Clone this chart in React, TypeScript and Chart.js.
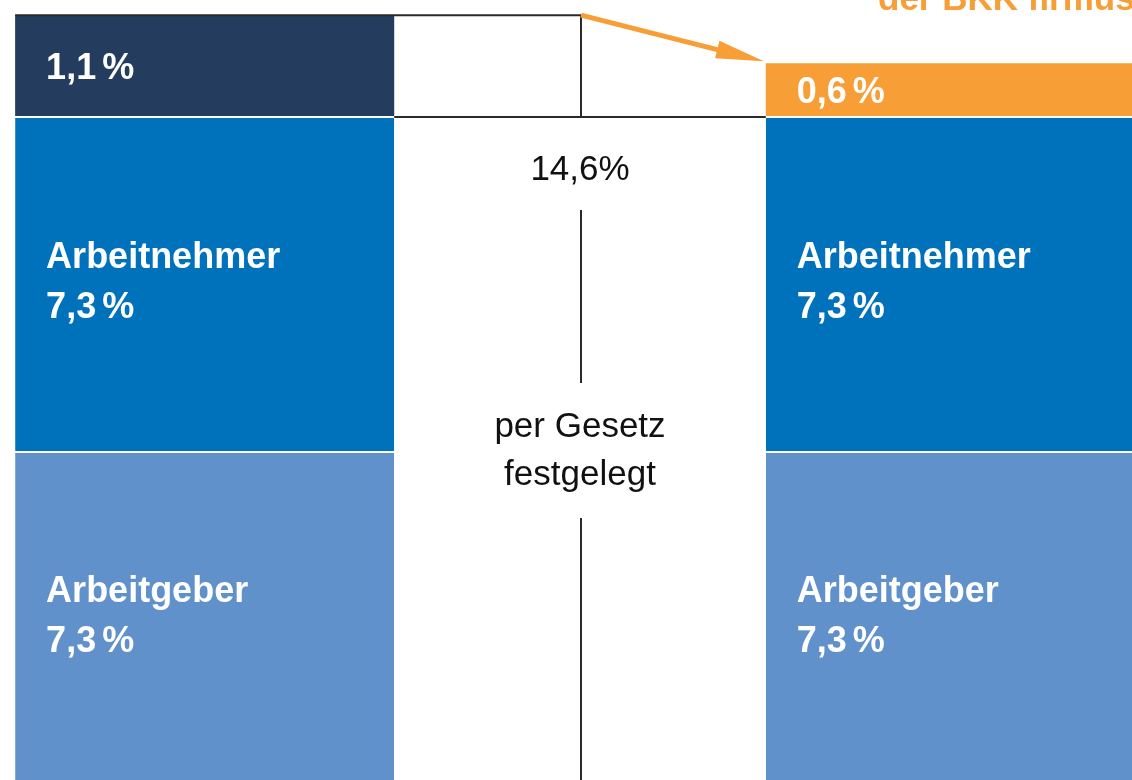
import React, { useEffect, useRef } from "react";
import { Chart, registerables } from "chart.js";

Chart.register(...registerables);

// ---- data ----
const categories = ["Allgemeiner Beitragssatz", "", "BKK firmus"];
const arbeitgeberValues = [7.3, null, 7.3];
const arbeitnehmerValues = [7.3, null, 7.3];
// drawn heights of the Zusatzbeitrag blocks (as shown in the picture)
const zusatzValues = [2.2, null, 1.15];
const zusatzLabels = ["1,1 %", "", "0,6 %"];
const arbeitnehmerLabels = ["Arbeitnehmer", "7,3 %"];
const arbeitgeberLabels = ["Arbeitgeber", "7,3 %"];
const totalLabel = "14,6%";
const noteLines = ["per Gesetz", "festgelegt"];
const headline = "der BKK firmus";

const COLORS = {
  arbeitgeber: "#6191cb",
  arbeitnehmer: "#0071bb",
  zusatz: ["#243d5f", "#243d5f", "#f79e36"],
  orange: "#f79e36",
  line: "#2a2a2a",
};

const FONT = "'Liberation Sans', Arial, sans-serif";

const overlayPlugin = {
  id: "overlay",
  afterDatasetsDraw(chart: any) {
    const ctx = chart.ctx;
    const x = chart.scales.x;
    const area = chart.chartArea;
    const agMeta = chart.getDatasetMeta(0).data;
    const anMeta = chart.getDatasetMeta(1).data;
    const zMeta = chart.getDatasetMeta(2).data;
    const midX = x.getPixelForValue(1) + 1;
    const leftBar = zMeta[0];
    const rightBar = zMeta[2];
    const leftL = leftBar.x - leftBar.width / 2;
    const leftR = leftBar.x + leftBar.width / 2;
    const rightL = rightBar.x - rightBar.width / 2;
    const topY = leftBar.y;
    const midY = anMeta[0].y;

    ctx.save();
    // bracket lines
    ctx.strokeStyle = COLORS.line;
    ctx.lineWidth = 2;
    ctx.beginPath();
    ctx.moveTo(leftL, topY);
    ctx.lineTo(midX, topY);
    ctx.moveTo(leftR, midY + 1);
    ctx.lineTo(rightL, midY + 1);
    ctx.moveTo(midX, topY);
    ctx.lineTo(midX, midY + 1);
    ctx.moveTo(midX, midY + 94);
    ctx.lineTo(midX, midY + 267);
    ctx.moveTo(midX, midY + 402);
    ctx.lineTo(midX, area.bottom);
    ctx.stroke();

    // arrow
    const sx = midX, sy = topY;
    const tx = rightL - 2, ty = rightBar.y - 2;
    const dx = tx - sx, dy = ty - sy;
    const len = Math.hypot(dx, dy);
    const ux = dx / len, uy = dy / len;
    const px = -uy, py = ux;
    const headLen = 48, headHalf = 9;
    const bx = tx - ux * headLen, by = ty - uy * headLen;
    ctx.strokeStyle = COLORS.orange;
    ctx.fillStyle = COLORS.orange;
    ctx.lineWidth = 5;
    ctx.beginPath();
    ctx.moveTo(sx, sy);
    ctx.lineTo(bx + ux * 4, by + uy * 4);
    ctx.stroke();
    ctx.beginPath();
    ctx.moveTo(tx, ty);
    ctx.lineTo(bx + px * headHalf, by + py * headHalf);
    ctx.lineTo(bx - px * headHalf, by - py * headHalf);
    ctx.closePath();
    ctx.fill();

    // headline (cut off at top)
    ctx.fillStyle = COLORS.orange;
    ctx.font = `bold 35px ${FONT}`;
    ctx.textAlign = "left";
    ctx.textBaseline = "alphabetic";
    ctx.fillText(headline, 878, 10);

    // middle texts
    ctx.fillStyle = "#111";
    ctx.font = `35px ${FONT}`;
    ctx.textAlign = "center";
    ctx.textBaseline = "middle";
    ctx.fillText(totalLabel, midX - 1, midY + 54);
    ctx.fillText(noteLines[0], midX - 1, midY + 311);
    ctx.fillText(noteLines[1], midX - 1, midY + 359);

    // bar labels
    ctx.fillStyle = "#ffffff";
    ctx.font = `bold 36px ${FONT}`;
    (ctx as any).wordSpacing = "-4px";
    ctx.textAlign = "left";
    [0, 2].forEach((i) => {
      const z = zMeta[i];
      const an = anMeta[i];
      const ag = agMeta[i];
      const lx = z.x - z.width / 2 + 31;
      ctx.fillText(zusatzLabels[i], lx, (z.y + z.base) / 2 + 3);
      ctx.fillText(arbeitnehmerLabels[0], lx, an.y + 142);
      ctx.fillText(arbeitnehmerLabels[1], lx, an.y + 192);
      ctx.fillText(arbeitgeberLabels[0], lx, ag.y + 141);
      ctx.fillText(arbeitgeberLabels[1], lx, ag.y + 191);
    });
    ctx.restore();
  },
};

export default function App() {
  const ref = useRef<HTMLCanvasElement | null>(null);
  useEffect(() => {
    if (!ref.current) return;
    const chart = new Chart(ref.current, {
      type: "bar",
      data: {
        labels: categories,
        datasets: [
          {
            label: "Arbeitgeber",
            data: arbeitgeberValues,
            backgroundColor: COLORS.arbeitgeber,
            borderColor: "#ffffff",
            borderWidth: { top: 2, left: 0, right: 0, bottom: 0 },
            borderSkipped: false,
            clip: false,
          },
          {
            label: "Arbeitnehmer",
            data: arbeitnehmerValues,
            backgroundColor: COLORS.arbeitnehmer,
            borderColor: "#ffffff",
            borderWidth: { top: 2, left: 0, right: 0, bottom: 0 },
            borderSkipped: false,
            clip: false,
          },
          {
            label: "Zusatzbeitrag",
            data: zusatzValues,
            backgroundColor: COLORS.zusatz,
            borderWidth: 0,
            clip: false,
          },
        ] as any,
      },
      options: {
        responsive: false,
        animation: false,
        devicePixelRatio: 1,
        layout: { padding: { top: 6, bottom: 0, left: 17, right: 17 } },
        datasets: { bar: { barPercentage: 1.01, categoryPercentage: 1 } } as any,
        plugins: {
          legend: { display: false },
          tooltip: { enabled: false },
          title: { display: false },
        },
        scales: {
          x: { stacked: true, display: false, grid: { display: false } },
          y: { stacked: true, display: false, min: 0, max: 17, grid: { display: false } },
        },
      },
      plugins: [overlayPlugin],
    });
    return () => chart.destroy();
  }, []);
  return (
    <div style={{ position: "fixed", top: 0, left: 0, width: 1132, height: 780, overflow: "hidden", background: "#fff" }}>
      <canvas ref={ref} width={1160} height={786} style={{ display: "block" }} />
    </div>
  );
}
